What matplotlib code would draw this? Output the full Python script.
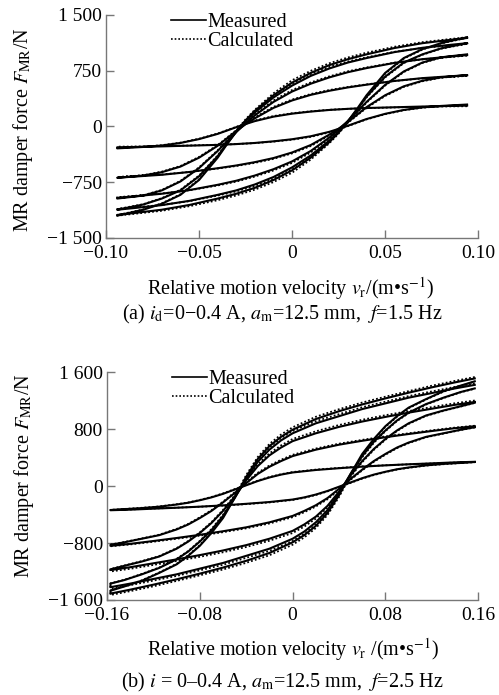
import matplotlib
matplotlib.use('Agg')
import matplotlib.pyplot as plt
import numpy as np
from matplotlib.lines import Line2D

plt.rcParams['font.family'] = ['Liberation Serif', 'DejaVu Serif']
plt.rcParams['mathtext.fontset'] = 'stix'

# ---- panel (a): f = 1.5 Hz, currents 0, 0.1, 0.2, 0.3, 0.4 A ----
# upper branch of each loop (velocity decreasing), force in N
a_velocity = [0.094, 0.085, 0.07, 0.055, 0.04, 0.03, 0.02, 0.01, 0.0, -0.01,
              -0.02, -0.025, -0.03, -0.035, -0.04, -0.05, -0.06, -0.07, -0.08, -0.094]
a_measured = [
    [280, 276, 268, 258, 248, 237, 222, 200, 172, 132, 72, 32, -10, -55, -100, -170, -222, -256, -276, -295],
    [690, 675, 650, 612, 562, 525, 480, 425, 350, 250, 110, 30, -60, -160, -260, -420, -540, -615, -660, -690],
    [960, 940, 905, 855, 785, 730, 660, 575, 470, 330, 150, 40, -75, -200, -330, -560, -740, -860, -930, -970],
    [1120, 1098, 1058, 1000, 920, 860, 780, 680, 550, 390, 190, 70, -70, -230, -400, -670, -860, -970, -1050, -1120],
    [1190, 1165, 1120, 1055, 970, 905, 825, 720, 590, 420, 210, 80, -70, -240, -420, -720, -920, -1040, -1120, -1200],
]
a_calculated = [
    [272, 270, 264, 256, 246, 237, 224, 204, 178, 140, 80, 40, -5, -50, -95, -165, -218, -252, -272, -290],
    [680, 667, 646, 612, 566, 532, 490, 436, 362, 264, 122, 42, -50, -150, -250, -410, -532, -608, -656, -684],
    [952, 934, 902, 858, 794, 742, 674, 592, 490, 350, 166, 56, -62, -188, -320, -550, -732, -854, -926, -962],
    [1110, 1090, 1056, 1004, 930, 874, 800, 704, 576, 414, 206, 84, -58, -220, -390, -660, -852, -964, -1046, -1112],
    [1200, 1176, 1134, 1072, 992, 928, 850, 748, 622, 446, 226, 96, -56, -228, -410, -710, -912, -1034, -1116, -1192],
]
a_yticks = [-1500, -750, 0, 750, 1500]
a_yticklabels = ['\u22121 500', '\u2212750', '0', '750', '1 500']
a_xticks = [-0.10, -0.05, 0, 0.05, 0.10]
a_xticklabels = ['\u22120.10', '\u22120.05', '0', '0.05', '0.10']

# ---- panel (b): f = 2.5 Hz ----
b_velocity = [0.157, 0.14, 0.12, 0.10, 0.08, 0.06, 0.04, 0.02, 0.0, -0.01, -0.02, -0.03,
              -0.04, -0.05, -0.06, -0.07, -0.08, -0.09, -0.10, -0.115, -0.13, -0.145, -0.157]
b_measured = [
    [340, 332, 318, 305, 290, 272, 250, 225, 190, 160, 120, 70, 10, -50, -110, -160, -200, -235, -260, -290, -310, -325, -337],
    [840, 812, 772, 730, 685, 635, 580, 510, 420, 350, 270, 170, 40, -100, -230, -350, -450, -540, -610, -690, -740, -790, -825],
    [1180, 1140, 1085, 1030, 970, 905, 830, 740, 630, 540, 430, 280, 80, -150, -350, -520, -660, -780, -880, -990, -1060, -1120, -1170],
    [1420, 1370, 1305, 1240, 1160, 1080, 980, 880, 740, 640, 510, 340, 100, -170, -420, -620, -780, -920, -1030, -1150, -1240, -1320, -1370],
    [1510, 1455, 1385, 1310, 1230, 1145, 1050, 940, 790, 690, 560, 380, 130, -170, -450, -660, -840, -980, -1100, -1220, -1330, -1410, -1470],
]
b_calculated = [
    [336, 329, 316, 304, 291, 275, 254, 230, 196, 166, 126, 76, 16, -44, -104, -154, -196, -231, -256, -287, -306, -322, -334],
    [846, 820, 782, 740, 697, 648, 594, 526, 438, 368, 288, 186, 54, -88, -220, -340, -440, -532, -602, -684, -736, -786, -822],
    [1200, 1162, 1108, 1052, 994, 930, 856, 768, 660, 570, 458, 304, 100, -132, -336, -508, -650, -772, -872, -984, -1054, -1116, -1166],
    [1440, 1392, 1328, 1262, 1184, 1106, 1008, 910, 772, 672, 540, 366, 122, -150, -404, -606, -770, -912, -1022, -1144, -1234, -1316, -1366],
    [1530, 1476, 1408, 1332, 1254, 1172, 1078, 972, 824, 722, 590, 408, 154, -150, -434, -648, -830, -972, -1092, -1214, -1324, -1406, -1466],
]
b_yticks = [-1600, -800, 0, 800, 1600]
b_yticklabels = ['\u22121 600', '\u2212800', '0', '800', '1 600']
b_xticks = [-0.16, -0.08, 0, 0.08, 0.16]
b_xticklabels = ['\u22120.16', '\u22120.08', '0', '0.08', '0.16']

FS = 14.5
FS_TICK = 14
AXIS_COLOR = '#777777'
DOTS = (0, (1, 1.2))


def draw_loops(ax, velocity, measured, calculated):
    v_up = np.array(velocity)
    for meas, calc in zip(measured, calculated):
        # closed loop: upper branch, then the point-symmetric lower branch
        f_m = np.array(meas, dtype=float)
        f_c = np.array(calc, dtype=float)
        v_loop = np.concatenate([v_up, -v_up])
        ax.plot(v_loop, np.concatenate([f_m, -f_m]), color='black', lw=1.5,
                solid_joinstyle='round', zorder=3)
        ax.plot(v_loop, np.concatenate([f_c, -f_c]), color='black', lw=1.3,
                linestyle=DOTS, zorder=4)


def style_axes(ax, xticks, xticklabels, yticks, yticklabels, xlim, ylim):
    ax.set_xlim(*xlim)
    ax.set_ylim(*ylim)
    ax.set_xticks(xticks)
    ax.set_xticklabels(xticklabels)
    ax.set_yticks(yticks)
    ax.set_yticklabels(yticklabels)
    for side in ['top', 'right']:
        ax.spines[side].set_visible(False)
    for side in ['left', 'bottom']:
        ax.spines[side].set_color(AXIS_COLOR)
        ax.spines[side].set_linewidth(1.0)
    ax.tick_params(direction='in', length=6, width=1.0, color=AXIS_COLOR,
                   labelsize=FS_TICK)
    ax.tick_params(axis='x', pad=5)
    ax.tick_params(axis='y', pad=3)
    ax.set_ylabel('MR damper force $F_{\\rm MR}$/N', fontsize=FS)
    handles = [Line2D([], [], color='black', lw=1.2),
               Line2D([], [], color='black', lw=1.2, linestyle=DOTS)]
    ax.legend(handles, ['Measured', 'Calculated'], loc='upper left',
              bbox_to_anchor=(0.175, 1.01), frameon=False, fontsize=FS,
              handlelength=1.75, handletextpad=0.05, labelspacing=0.0,
              borderpad=0.0, borderaxespad=0.0)


fig = plt.figure(figsize=(4.99, 6.95), dpi=100)

ax1 = fig.add_axes([0.2124, 0.6576, 0.746, 0.3209])
draw_loops(ax1, a_velocity, a_measured, a_calculated)
style_axes(ax1, a_xticks, a_xticklabels, a_yticks, a_yticklabels,
           (-0.10, 0.10), (-1500, 1500))
ax1.set_xlabel('Relative motion velocity $v_{\\rm r}$/(m\u2022s$^{-1}$)', fontsize=FS)
ax1.xaxis.set_label_coords(0.495, -0.165)
ax1.yaxis.set_label_coords(-0.19, 0.484)
fig.text(0.566, 1 - 314 / 695,
         '(a) $i_{\\rm d}$=0\u22120.4 A, $a_{\\rm m}$=12.5 mm,  $f$=1.5 Hz',
         ha='center', va='center', fontsize=FS)

ax2 = fig.add_axes([0.2144, 0.1367, 0.744, 0.328])
draw_loops(ax2, b_velocity, b_measured, b_calculated)
style_axes(ax2, b_xticks, b_xticklabels, b_yticks, b_yticklabels,
           (-0.16, 0.16), (-1600, 1600))
ax2.set_xlabel('Relative motion velocity $v_{\\rm r}$ /(m\u2022s$^{-1}$)', fontsize=FS)
ax2.xaxis.set_label_coords(0.5, -0.16)
ax2.yaxis.set_label_coords(-0.19, 0.545)
fig.text(0.566, 1 - 682 / 695,
         '(b) $i$ = 0\u20130.4 A, $a_{\\rm m}$=12.5 mm,  $f$=2.5 Hz',
         ha='center', va='center', fontsize=FS)

fig.savefig('out.png', dpi=100)
plt.close(fig)
